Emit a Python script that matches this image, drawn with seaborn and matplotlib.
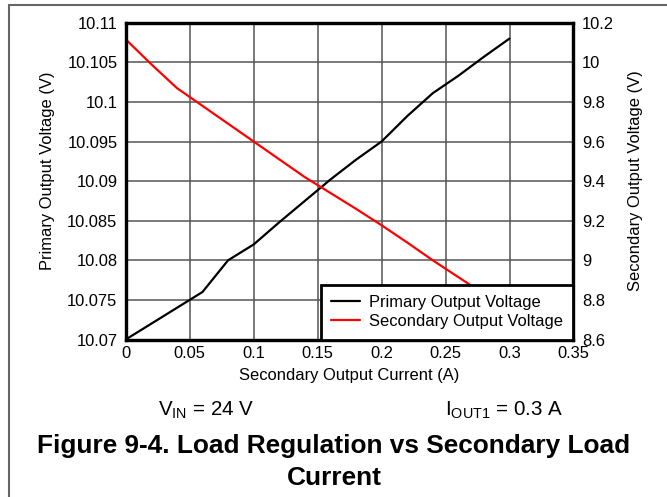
import matplotlib
matplotlib.use("Agg")
import matplotlib.pyplot as plt
import seaborn as sns
import pandas as pd
from matplotlib.lines import Line2D

# ---- data ----
current_a = [0.0, 0.02, 0.04, 0.06, 0.08, 0.10, 0.12, 0.14, 0.16, 0.18, 0.20, 0.22, 0.24, 0.26, 0.28, 0.30]
primary_v = [10.070, 10.072, 10.074, 10.076, 10.080, 10.082, 10.0848, 10.0875, 10.0902, 10.0927, 10.095,
             10.0982, 10.1011, 10.1033, 10.1057, 10.108]
secondary_v = [10.116, 9.99, 9.87, 9.78, 9.69, 9.60, 9.51, 9.42, 9.34, 9.26, 9.177,
               9.09, 9.00, 8.915, 8.83, 8.745]

x_ticks = [0, 0.05, 0.1, 0.15, 0.2, 0.25, 0.3, 0.35]
x_labels = ["0", "0.05", "0.1", "0.15", "0.2", "0.25", "0.3", "0.35"]
left_ticks = [10.07, 10.075, 10.08, 10.085, 10.09, 10.095, 10.1, 10.105, 10.11]
left_labels = ["10.07", "10.075", "10.08", "10.085", "10.09", "10.095", "10.1", "10.105", "10.11"]
right_ticks = [8.6, 8.8, 9.0, 9.2, 9.4, 9.6, 9.8, 10.0, 10.2]
right_labels = ["8.6", "8.8", "9", "9.2", "9.4", "9.6", "9.8", "10", "10.2"]

df = pd.DataFrame({"current": current_a, "primary": primary_v, "secondary": secondary_v})

sns.set_style("white")
plt.rcParams["font.family"] = ["Liberation Sans", "DejaVu Sans"]
plt.rcParams["mathtext.fontset"] = "custom"
plt.rcParams["mathtext.rm"] = "Liberation Sans"
plt.rcParams["text.color"] = "black"
plt.rcParams["axes.labelcolor"] = "black"

fig = plt.figure(figsize=(6.67, 4.97), dpi=100)
ax = fig.add_axes([0.1885, 0.3169, 0.6713, 0.6374])
ax2 = ax.twinx()

fs = 11.9
sns.lineplot(data=df, x="current", y="primary", ax=ax, color="black", linewidth=1.6, legend=False)
sns.lineplot(data=df, x="current", y="secondary", ax=ax2, color="#ff0000", linewidth=1.6, legend=False)

ax.set_xlim(0, 0.35)
ax.set_ylim(10.07, 10.11)
ax2.set_ylim(8.6, 10.2)
ax.set_xticks(x_ticks)
ax.set_xticklabels(x_labels)
ax.set_yticks(left_ticks)
ax.set_yticklabels(left_labels)
ax2.set_yticks(right_ticks)
ax2.set_yticklabels(right_labels)

ax.grid(True, color="#555555", linewidth=1.1)
ax.set_axisbelow(True)
ax.tick_params(axis="both", length=0, labelsize=fs, colors="black")
ax.tick_params(axis="y", pad=6)
ax.tick_params(axis="x", pad=5)
ax2.tick_params(axis="y", length=0, labelsize=fs, pad=6, colors="black")

ax.set_xlabel("Secondary Output Current (A)", fontsize=fs, labelpad=4.5)
ax.set_ylabel("Primary Output Voltage (V)", fontsize=fs, labelpad=7)
ax.yaxis.set_label_coords(-0.158, 0.532)
ax2.set_ylabel("Secondary Output Voltage (V)", fontsize=fs, labelpad=10)

for a in (ax, ax2):
    for s in a.spines.values():
        s.set_color("black")
        s.set_linewidth(2.3)

handles = [Line2D([0], [0], color="black", linewidth=1.6),
           Line2D([0], [0], color="#ff0000", linewidth=1.6)]
leg = ax2.legend(handles, ["Primary Output Voltage", "Secondary Output Voltage"],
                 loc="lower right", borderaxespad=0, fontsize=fs, frameon=True,
                 fancybox=False, handlelength=1.75, handletextpad=0.55,
                 borderpad=0.62, labelspacing=0.25)
leg.get_frame().set_edgecolor("black")
leg.get_frame().set_linewidth(2.0)
leg.get_frame().set_alpha(1)

# surrounding frame lines
fig.add_artist(Line2D([9 / 667, 1.0], [1 - 4.7 / 497, 1 - 4.7 / 497], color="#666666", linewidth=1.5,
                      transform=fig.transFigure))
fig.add_artist(Line2D([9 / 667, 9 / 667], [0.0, 1 - 4.7 / 497], color="#666666", linewidth=1.5,
                      transform=fig.transFigure))

fig.text(206 / 667, 1 - 410 / 497, r"$\mathregular{V_{IN}}$ = 24 V", fontsize=14.8, ha="center", va="center")
fig.text(504 / 667, 1 - 410 / 497, r"$\mathregular{I_{OUT1}}$ = 0.3 A", fontsize=14.8, ha="center", va="center")
fig.text(334 / 667, 1 - 446 / 497, "Figure 9-4. Load Regulation vs Secondary Load", fontsize=18.9,
         fontweight="bold", ha="center", va="center")
fig.text(334 / 667, 1 - 478 / 497, "Current", fontsize=18.9, fontweight="bold", ha="center", va="center")

fig.savefig("out.png", dpi=100)
